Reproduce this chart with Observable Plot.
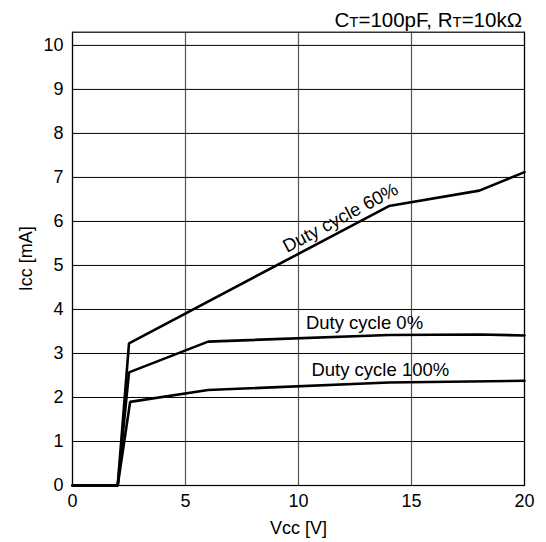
<!DOCTYPE html>
<html>
<head>
<meta charset="utf-8">
<script src="https://cdn.jsdelivr.net/npm/d3@7"></script>
<script src="https://cdn.jsdelivr.net/npm/@observablehq/plot@0.6"></script>
<style>
  html, body { margin: 0; padding: 0; background: #fff; }
  svg { font-family: "Liberation Sans", Arial, sans-serif; }
</style>
</head>
<body>
<div id="chart"></div>
<script>
// Vcc [V] and Icc [mA]
const vcc60 = [0, 2, 2.5, 14, 18, 20];
const icc60 = [0, 0, 3.23, 6.35, 6.70, 7.12];
const vcc0 = [0, 2, 2.5, 6, 14, 18, 20];
const icc0 = [0, 0, 2.57, 3.27, 3.42, 3.43, 3.41];
const vcc100 = [0, 2, 2.55, 6, 14, 20];
const icc100 = [0, 0, 1.90, 2.17, 2.34, 2.38];
const seriesNames = ["Duty cycle 60%", "Duty cycle 0%", "Duty cycle 100%"];
const labelX = [11.86, 12.92, 13.62];
const labelY = [6.08, 3.69, 2.62];
const labelAngle = [-28, 0, 0];
const xTicks = [0, 5, 10, 15, 20];
const yTicks = [0, 1, 2, 3, 4, 5, 6, 7, 8, 9, 10];
const titleParts = [["C", false], ["T", true], ["=100pF, R", false], ["T", true], ["=10kΩ", false]];

const toRows = (xs, ys, name) => xs.map((x, i) => ({x, y: ys[i], name}));
const rows = [
  ...toRows(vcc60, icc60, seriesNames[0]),
  ...toRows(vcc0, icc0, seriesNames[1]),
  ...toRows(vcc100, icc100, seriesNames[2])
];
const labels = seriesNames.map((name, i) => ({name, x: labelX[i], y: labelY[i], a: labelAngle[i]}));

const chart = Plot.plot({
  width: 546,
  height: 542,
  marginLeft: 72,
  marginRight: 22,
  marginTop: 31.7,
  marginBottom: 57,
  style: {fontFamily: "'Liberation Sans', Arial, sans-serif", fontSize: "18px", color: "#000", background: "#fff"},
  x: {domain: [0, 20]},
  y: {domain: [0, 10.3]},
  marks: [
    Plot.ruleX(xTicks, {stroke: "#555", strokeWidth: 1.2}),
    Plot.ruleY(yTicks, {stroke: "#000", strokeWidth: 1}),
    Plot.frame({stroke: "#000", strokeWidth: 1.2}),
    Plot.axisX(xTicks, {tickSize: 0, tickPadding: 9, fontSize: 18, label: "Vcc [V]", labelAnchor: "center", labelArrow: "none", labelOffset: 48}),
    Plot.axisY(yTicks, {tickSize: 0, tickPadding: 9, fontSize: 18, label: "Icc [mA]", labelAnchor: "center", labelArrow: "none", labelOffset: 53}),
    Plot.line(rows, {x: "x", y: "y", z: "name", stroke: "#000", strokeWidth: 2.6, strokeLinejoin: "miter"}),
    ...labels.map(d => Plot.text([d], {x: "x", y: "y", text: "name", rotate: d.a, fontSize: 18.5, fill: "#000"}))
  ]
});

const svg = d3.select(chart);
const t = svg.append("text")
  .attr("x", 522).attr("y", 26.5)
  .attr("text-anchor", "end")
  .attr("font-size", 20.5)
  .attr("fill", "#000");
titleParts.forEach(([s, small]) => {
  t.append("tspan").attr("font-size", small ? 15 : 20.5).text(s);
});

document.getElementById("chart").appendChild(chart);
</script>
</body>
</html>
